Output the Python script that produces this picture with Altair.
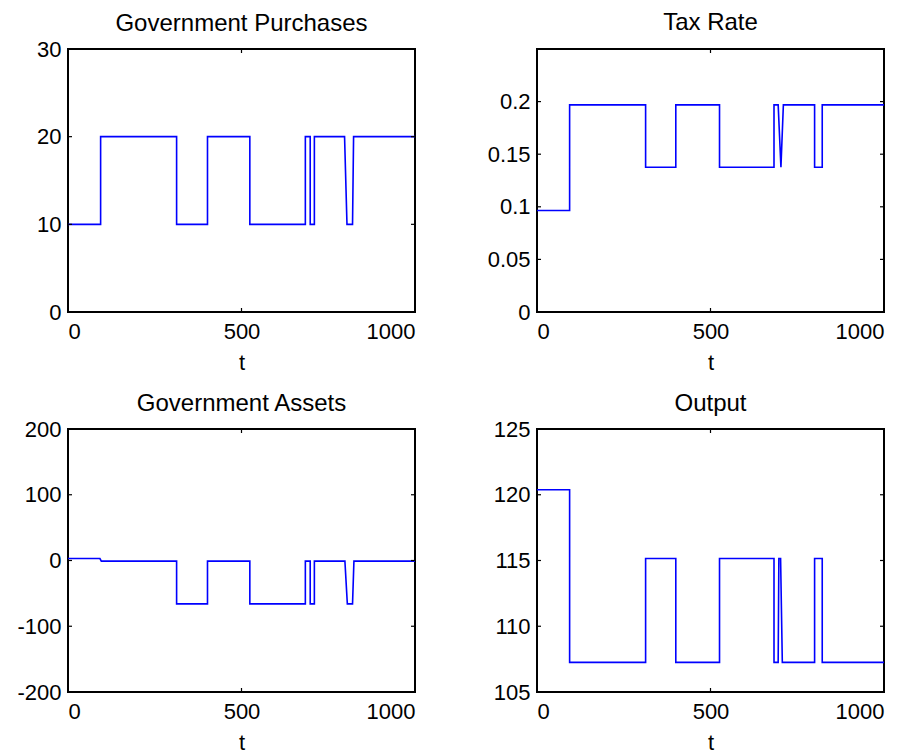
import altair as alt
import pandas as pd

# ---- data ----
X_TICKS = [0, 500, 1000]

gp_t = [0, 94, 94, 313, 313, 402, 402, 524, 524, 684, 684, 698, 698, 710, 710, 797, 804, 820, 823, 1000]
gp_v = [10, 10, 20, 20, 10, 10, 20, 20, 10, 10, 20, 20, 10, 10, 20, 20, 10, 10, 20, 20]

tax_t = [0, 94, 94, 313, 313, 400, 400, 526, 526, 683, 683, 695, 703, 710, 800, 800, 822, 822, 1000]
tax_v = [0.0965, 0.0965, 0.1969, 0.1969, 0.1376, 0.1376, 0.1969, 0.1969, 0.1376, 0.1376,
         0.1969, 0.1969, 0.1376, 0.1969, 0.1969, 0.1376, 0.1376, 0.1969, 0.1969]

as_t = [0, 92, 96, 313, 313, 402, 402, 524, 524, 684, 684, 698, 698, 710, 710, 798, 805, 820, 824, 1000]
as_v = [3, 3, -1, -1, -66, -66, -1, -1, -66, -66, -1, -1, -66, -66, -1, -1, -66, -66, -1, -1]

out_t = [0, 94, 94, 313, 313, 400, 400, 526, 526, 683, 683, 695, 697, 702, 707, 800, 800, 822, 822, 1000]
out_v = [120.38, 120.38, 107.25, 107.25, 115.15, 115.15, 107.25, 107.25, 115.15, 115.15,
         107.25, 107.25, 115.15, 115.15, 107.25, 107.25, 115.15, 115.15, 107.25, 107.25]

gp_ticks = [0, 10, 20, 30]
tax_ticks = [0, 0.05, 0.1, 0.15, 0.2]
as_ticks = [-200, -100, 0, 100, 200]
out_ticks = [105, 110, 115, 120, 125]

titles = ["Government Purchases", "Tax Rate", "Government Assets", "Output"]

W, H = 347, 263
TL = 4
FONT = "Liberation Sans"


def panel(t, v, title, ydom, yticks, toff):
    df = pd.DataFrame({"t": t, "v": v, "i": list(range(len(t)))})
    xs = alt.Scale(domain=[0, 1000], nice=False, zero=False)
    ys = alt.Scale(domain=ydom, nice=False, zero=False)
    xax = alt.Axis(values=X_TICKS, title="t", labelExpr="'' + datum.value",
                   labelPadding=9, titlePadding=10)
    yax = alt.Axis(values=yticks, title=None, labelExpr="'' + datum.value",
                   labelPadding=7)
    line = alt.Chart(df).mark_line(color="#0000ff", strokeWidth=1.6, clip=True).encode(
        x=alt.X("t:Q", scale=xs, axis=xax),
        y=alt.Y("v:Q", scale=ys, axis=yax),
        order="i:Q",
    )
    ydf = pd.DataFrame({"v": yticks})
    xdf = pd.DataFrame({"t": X_TICKS})
    lt = alt.Chart(ydf).mark_rule(color="black", strokeWidth=1.2).encode(
        y=alt.Y("v:Q", scale=ys, axis=yax), x=alt.value(0), x2=alt.value(TL))
    rt = alt.Chart(ydf).mark_rule(color="black", strokeWidth=1.2).encode(
        y=alt.Y("v:Q", scale=ys, axis=yax), x=alt.value(W - TL), x2=alt.value(W))
    bt = alt.Chart(xdf).mark_rule(color="black", strokeWidth=1.2).encode(
        x=alt.X("t:Q", scale=xs, axis=xax), y=alt.value(H), y2=alt.value(H - TL))
    tt = alt.Chart(xdf).mark_rule(color="black", strokeWidth=1.2).encode(
        x=alt.X("t:Q", scale=xs, axis=xax), y=alt.value(0), y2=alt.value(TL))
    return alt.layer(line, lt, rt, bt, tt).properties(
        width=W, height=H,
        title=alt.TitleParams(text=title, anchor="middle", frame="group", font=FONT,
                              fontSize=24, fontWeight="normal", color="black",
                              offset=toff),
    )


p1 = panel(gp_t, gp_v, titles[0], [0, 30], gp_ticks, 2)
p2 = panel(tax_t, tax_v, titles[1], [0, 0.25], tax_ticks, 13)
p3 = panel(as_t, as_v, titles[2], [-200, 200], as_ticks, 2)
p4 = panel(out_t, out_v, titles[3], [105, 125], out_ticks, 2)

chart = alt.concat(p1, p2, p3, p4, columns=2,
                   spacing={"row": 117, "column": 122}, bounds="flush").properties(
    padding={"left": 7, "top": 2, "right": 0, "bottom": 0},
    background="white",
).configure_view(stroke="black", strokeWidth=2).configure_axis(
    labelFont=FONT, labelFontSize=22, labelColor="black",
    titleFont=FONT, titleFontSize=22, titleFontWeight="normal", titleColor="black",
    domain=False, ticks=False, grid=False,
)

chart.save("out.html", embed_options={"renderer": "svg", "actions": False})
